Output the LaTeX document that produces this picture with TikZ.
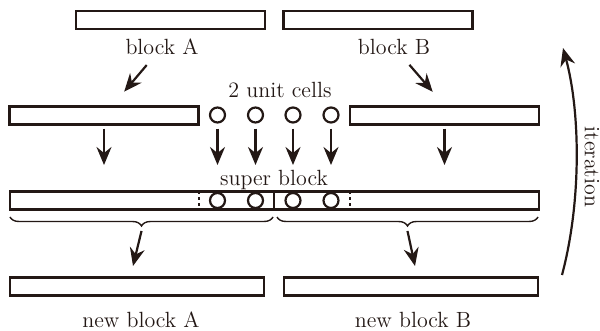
\documentclass[tikz,border=0pt]{standalone}
\usepackage{xcolor}
\usetikzlibrary{arrows.meta,decorations.pathreplacing}
\definecolor{figink}{HTML}{231815}

\begin{document}
\begin{tikzpicture}[x=0.5pt, y=-0.5pt, >={Stealth[length=9pt,width=7.5pt,inset=3pt]},
                    every node/.style={figink, font=\fontsize{11}{13}\selectfont},
                    blk/.style={draw=figink, line width=1.1pt, minimum width=94.5pt,
                                minimum height=9pt, inner sep=0pt},
                    wideblk/.style={blk, minimum width=127pt},
                    cell/.style={draw=figink, line width=1.1pt, circle, minimum size=7.5pt, inner sep=0pt},
                    arr/.style={figink, line width=1.1pt, ->},
                    cut/.style={figink, line width=0.8pt, dash pattern=on 1.5pt off 1.5pt},
                    brc/.style={figink, line width=0.7pt, decorate,
                                decoration={brace, mirror, amplitude=4.5pt}}]

  \useasboundingbox (0,0) rectangle (600,331);

  %% 上段: block A, block B
  \node[blk] (blkA) at (170.5,20) {};
  \node[blk] (blkB) at (378,20) {};
  \node (labA) at (162,47) {block A};
  \node (labB) at (394,47) {block B};

  %% 中段: ブロックと 2 unit cells
  \node[blk] (rowA) at (104,115.5) {};
  \node[blk] (rowB) at (444.5,115.5) {};
  \node (labC) at (280,90) {2 unit cells};
  \foreach \i/\x in {1/217.5, 2/255.5, 3/293, 4/331}
    \node[cell] (c\i) at (\x,115) {};

  \draw[arr, shorten <=2pt, shorten >=9pt] (labA) -- (rowA);
  \draw[arr, shorten <=2pt, shorten >=9pt] (labB) -- (rowB.north);

  %% 下向きの矢印
  \coordinate (dn) at (0,165);
  \draw[arr, shorten <=1.5pt] (rowA.south) -- (rowA.south |- dn);
  \draw[arr, shorten <=1.5pt] (rowB.south) -- (rowB.south |- dn);
  \foreach \i in {1,...,4}
    \draw[arr, shorten <=2.5pt] (c\i.south) -- (c\i.south |- dn);

  %% super block
  \node (labS) at (274,180) {super block};
  \node[blk, minimum width=264.5pt] (sb) at (274.5,200.5) {};
  \foreach \i/\x in {1/217.5, 2/255.5, 3/293, 4/331}
    \node[cell] (s\i) at (\x,200.5) {};
  \draw[cut] (199,191.5) -- (199,209.5);
  \draw[cut] (350,191.5) -- (350,209.5);
  \draw[figink, line width=0.8pt] (274,191.5) -- (274,209.5);

  %% 括弧と new block
  \draw[brc] (10,217) -- (273,217);
  \draw[brc] (277,217) -- (538,217);
  \coordinate (tipA) at (141.5,231);
  \coordinate (tipB) at (407.5,231);
  \coordinate (endA) at (133,266);
  \coordinate (endB) at (415,266);
  \draw[arr] (tipA) -- (endA);
  \draw[arr] (tipB) -- (endB);

  \node[wideblk] (newA) at (137,286.5) {};
  \node[wideblk] (newB) at (411,286.5) {};
  \node (labNA) at (141,320) {new block A};
  \node (labNB) at (413,320) {new block B};

  %% iteration
  \coordinate (itBot) at (562,275);
  \coordinate (itTop) at (563,48);
  \draw[arr] (itBot) .. controls (582,200) and (580,110) .. (itTop);
  \node[rotate=-90] (labI) at (592,167) {iteration};

\end{tikzpicture}
\end{document}
